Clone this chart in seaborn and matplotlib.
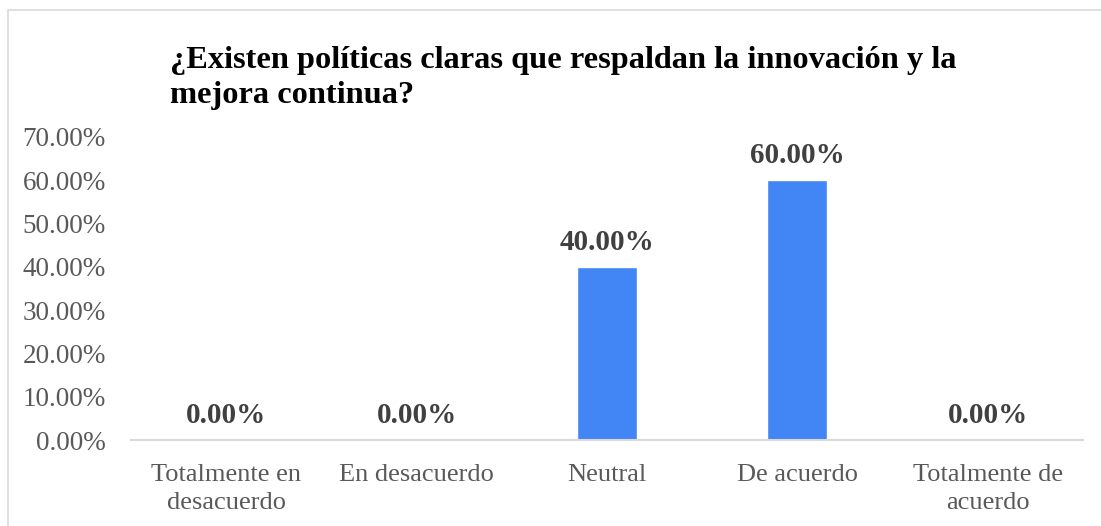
import matplotlib
matplotlib.use("Agg")
import matplotlib.pyplot as plt
import seaborn as sns
import pandas as pd
from matplotlib.patches import Rectangle

categories = ["Totalmente en\ndesacuerdo", "En desacuerdo", "Neutral", "De acuerdo", "Totalmente de\nacuerdo"]
values = [0.0, 0.0, 40.0, 60.0, 0.0]
yticks = [0, 10, 20, 30, 40, 50, 60, 70]
title = "¿Existen políticas claras que respaldan la innovación y la\nmejora continua?"

sns.set_theme(style="white")
plt.rcParams["font.family"] = ["Liberation Serif", "DejaVu Serif"]

df = pd.DataFrame({"cat": categories, "val": values})

fig = plt.figure(figsize=(11.01, 5.26), dpi=100)
ax = fig.add_axes([131 / 1101, 1 - 440 / 526, (1083 - 131) / 1101, 303 / 526])

sns.barplot(data=df, x="cat", y="val", color="#4285F4", width=0.315, ax=ax, saturation=1)

ax.set_ylim(0, 70)
ax.set_yticks(yticks)
ax.set_yticklabels([f"{v:.2f}%" for v in yticks], color="#595959", fontsize=19.5)
ax.set_xticklabels(categories, color="#595959", fontsize=19, linespacing=1.4)
ax.tick_params(axis="both", length=0)
ax.tick_params(axis="y", pad=18)
ax.tick_params(axis="x", pad=17)
ax.set_xlabel("")
ax.set_ylabel("")
for s in ["left", "right", "top"]:
    ax.spines[s].set_visible(False)
ax.spines["bottom"].set_color("#D9D9D9")
ax.spines["bottom"].set_linewidth(1.5)
ax.grid(False)

for i, v in enumerate(values):
    ax.annotate(f"{v:.2f}%", (i, v), xytext=(0, 8), textcoords="offset points",
                ha="center", va="bottom", fontsize=21, fontweight="bold", color="#404040")

fig.text(170 / 1101, 1 - 46 / 526, title, ha="left", va="top", fontsize=23.3,
         fontweight="bold", color="#000000", linespacing=1.27)

fig.patches.append(Rectangle((8 / 1101, -0.1), 1.2, 1 - 10 / 526 + 0.1, transform=fig.transFigure,
                             fill=False, edgecolor="#D9D9D9", linewidth=1.2))

fig.savefig("out.png", dpi=100)
